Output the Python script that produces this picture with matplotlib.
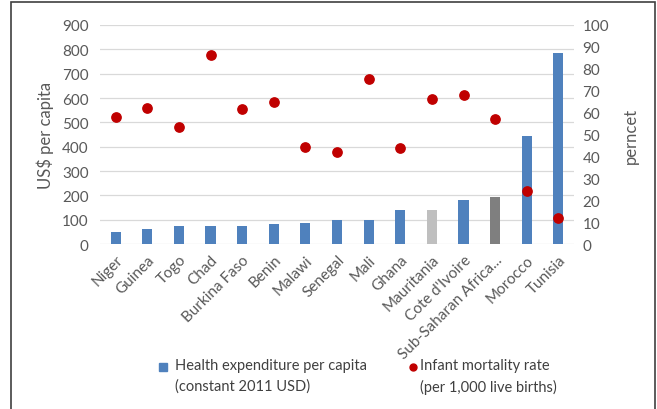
import matplotlib.pyplot as plt
from matplotlib.lines import Line2D
from matplotlib.patches import Rectangle

plt.rcParams['font.family'] = ['Lato', 'DejaVu Sans']

countries = ["Niger", "Guinea", "Togo", "Chad", "Burkina Faso", "Benin", "Malawi",
             "Senegal", "Mali", "Ghana", "Mauritania", "Cote d'Ivoire",
             "Sub-Saharan Africa...", "Morocco", "Tunisia"]
health_exp = [48, 62, 73, 73, 72, 81, 88, 100, 100, 140, 140, 180, 193, 445, 784]
infant_mort = [58, 62, 53.5, 86.5, 61.5, 65, 44.5, 42, 75.5, 44, 66, 68, 57, 24, 12]
bar_colors = ["#4F81BD"] * 10 + ["#BFBFBF", "#4F81BD", "#7F7F7F", "#4F81BD", "#4F81BD"]

tick_col = "#595959"

fig = plt.figure(figsize=(6.57, 4.10), dpi=100)
ax = fig.add_axes([0.152, 0.4024, 0.722, 0.5342])
ax2 = ax.twinx()

x = range(len(countries))
ax.bar(x, health_exp, width=0.32, color=bar_colors, zorder=2)
ax2.scatter(x, infant_mort, s=45, color="#C00000", zorder=3)

ax.set_xlim(-0.5, len(countries) - 0.5)
ax.set_ylim(0, 900)
ax2.set_ylim(0, 100)
ax.set_yticks(range(0, 1000, 100))
ax2.set_yticks(range(0, 110, 10))
ax.grid(axis="y", color="#D9D9D9", lw=0.9, zorder=0)
ax.set_axisbelow(True)

ax.set_xticks(list(x))
ax.set_xticklabels(countries, rotation=45, ha="right", rotation_mode="anchor",
                   fontsize=10.5, color=tick_col)
for a in (ax, ax2):
    for s in a.spines.values():
        s.set_visible(False)
    a.tick_params(length=0, labelsize=11, labelcolor=tick_col)
ax.tick_params(axis="x", pad=6)
ax.tick_params(axis="y", pad=8)
ax2.tick_params(axis="y", pad=6)

ax.set_ylabel("US$ per capita", fontsize=12, color=tick_col, labelpad=6)
ax2.set_ylabel("perncet", fontsize=12, color=tick_col, labelpad=10)

# legend drawn by hand so markers sit by the first line
leg_col = "#404040"
fig.add_artist(Line2D([163 / 657], [1 - 368 / 410], marker="s", ms=6,
                      color="#4F81BD", transform=fig.transFigure))
fig.text(175 / 657, 1 - 359 / 410, "Health expenditure per capita\n(constant 2011 USD)",
         fontsize=10.5, color=leg_col, va="top", ha="left", linespacing=1.6)
fig.add_artist(Line2D([413 / 657], [1 - 368 / 410], marker="o", ms=5,
                      color="#C00000", transform=fig.transFigure))
fig.text(420 / 657, 1 - 359 / 410, "Infant mortality rate\n(per 1,000 live births)",
         fontsize=10.5, color=leg_col, va="top", ha="left", linespacing=1.6)

# outer frame
fig.add_artist(Rectangle((11 / 657, -0.05), 644 / 657, 1.05 - 3 / 410, fill=False,
                         ec="#404040", lw=1.2, transform=fig.transFigure))

fig.savefig("out.png", dpi=100)
